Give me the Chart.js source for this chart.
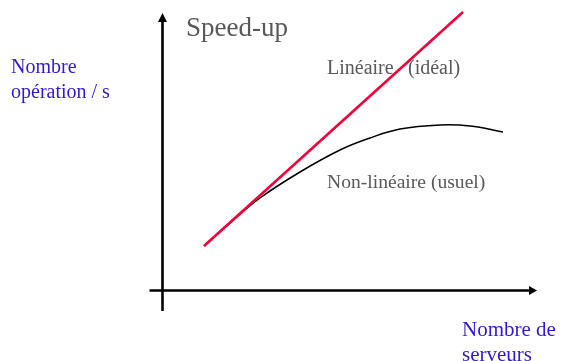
<!DOCTYPE html>
<html>
<head>
<meta charset="utf-8">
<script src="https://cdn.jsdelivr.net/npm/chart.js@4"></script>
<style>
  html, body { margin: 0; padding: 0; background: #fff; }
  #wrap { width: 563px; height: 361px; }
</style>
</head>
<body>
<div id="wrap"><canvas id="c" width="563" height="361"></canvas></div>
<script>
// Conceptual units: x = number of servers, y = operations / s
const linearX = [4.2, 30.1];
const linearY = [4.4, 27.8];
const nonLinearX = [4.2, 6.8, 9.8, 13.8, 17.8, 20.8, 23.8, 27.8, 30.8, 34.1];
const nonLinearY = [4.4, 6.7, 9.2, 11.8, 14.0, 15.2, 16.1, 16.5, 16.4, 15.8];
const seriesLabels = ['Linéaire   (idéal)', 'Non-linéaire (usuel)'];
const chartTitle = 'Speed-up';
const yAxisTitle = ['Nombre', 'opération / s'];
const xAxisTitle = ['Nombre de', 'serveurs'];

const toPts = (xs, ys) => xs.map((x, i) => ({ x: x, y: ys[i] }));

const decor = {
  id: 'decor',
  beforeDatasetsDraw(chart) {
    const { ctx, scales: { x, y } } = chart;
    const px = v => x.getPixelForValue(v);
    const py = v => y.getPixelForValue(v);
    ctx.save();
    ctx.strokeStyle = '#000';
    ctx.fillStyle = '#000';
    ctx.lineWidth = 2.6;
    // horizontal axis
    const x0 = px(-1.25), x1 = px(37.5), yA = py(-0.05);
    ctx.beginPath(); ctx.moveTo(x0, yA); ctx.lineTo(x1 - 6, yA); ctx.stroke();
    ctx.beginPath(); ctx.moveTo(x1, yA); ctx.lineTo(x1 - 8, yA - 4.5); ctx.lineTo(x1 - 8, yA + 4.5); ctx.closePath(); ctx.fill();
    // vertical axis
    const xA = px(0.05), y0 = py(-2.1), y1 = py(27.7);
    ctx.beginPath(); ctx.moveTo(xA, y0); ctx.lineTo(xA, y1 + 6); ctx.stroke();
    ctx.beginPath(); ctx.moveTo(xA, y1); ctx.lineTo(xA - 4.5, y1 + 9); ctx.lineTo(xA + 4.5, y1 + 9); ctx.closePath(); ctx.fill();
    ctx.restore();
  },
  afterDatasetsDraw(chart) {
    const { ctx, scales: { x, y } } = chart;
    const px = v => x.getPixelForValue(v);
    const py = v => y.getPixelForValue(v);
    ctx.save();
    ctx.textBaseline = 'alphabetic';
    ctx.textAlign = 'left';
    ctx.fillStyle = '#595959';
    ctx.font = '27px "Liberation Serif", "Times New Roman", serif';
    ctx.fillText(chartTitle, px(2.4), py(25.4));
    ctx.font = '20px "Liberation Serif", "Times New Roman", serif';
    const parts = seriesLabels[0].split(/\s{2,}/);
    ctx.fillText(parts[0], px(16.5), py(21.6));
    ctx.fillText(parts[1], px(24.6), py(21.6));
    ctx.font = '19.6px "Liberation Serif", "Times New Roman", serif';
    ctx.fillText(seriesLabels[1], px(16.5), py(10.2));
    ctx.fillStyle = '#3318d2';
    ctx.font = '20px "Liberation Serif", "Times New Roman", serif';
    ctx.fillText(yAxisTitle[0], px(-15.1), py(21.75));
    ctx.fillText(yAxisTitle[1], px(-15.1), py(19.25));
    ctx.font = '21px "Liberation Serif", "Times New Roman", serif';
    ctx.fillText(xAxisTitle[0], px(30.0), py(-4.6));
    ctx.fillText(xAxisTitle[1], px(30.0), py(-7.1));
    ctx.restore();
  }
};

new Chart(document.getElementById('c'), {
  type: 'scatter',
  data: {
    datasets: [
      {
        label: seriesLabels[1],
        data: toPts(nonLinearX, nonLinearY),
        showLine: true,
        borderColor: '#000000',
        borderWidth: 1.5,
        pointRadius: 0,
        tension: 0.4,
        fill: false,
        order: 2
      },
      {
        label: seriesLabels[0],
        data: toPts(linearX, linearY),
        showLine: true,
        borderColor: '#f0003a',
        borderWidth: 2.6,
        pointRadius: 0,
        tension: 0,
        fill: false,
        order: 1
      }
    ]
  },
  options: {
    responsive: false,
    animation: false,
    layout: { padding: 0 },
    plugins: { legend: { display: false }, tooltip: { enabled: false }, title: { display: false } },
    scales: {
      x: { type: 'linear', min: -16.2, max: 40.1, display: false },
      y: { type: 'linear', min: -7.1, max: 29.0, display: false }
    }
  },
  plugins: [decor]
});
</script>
</body>
</html>
